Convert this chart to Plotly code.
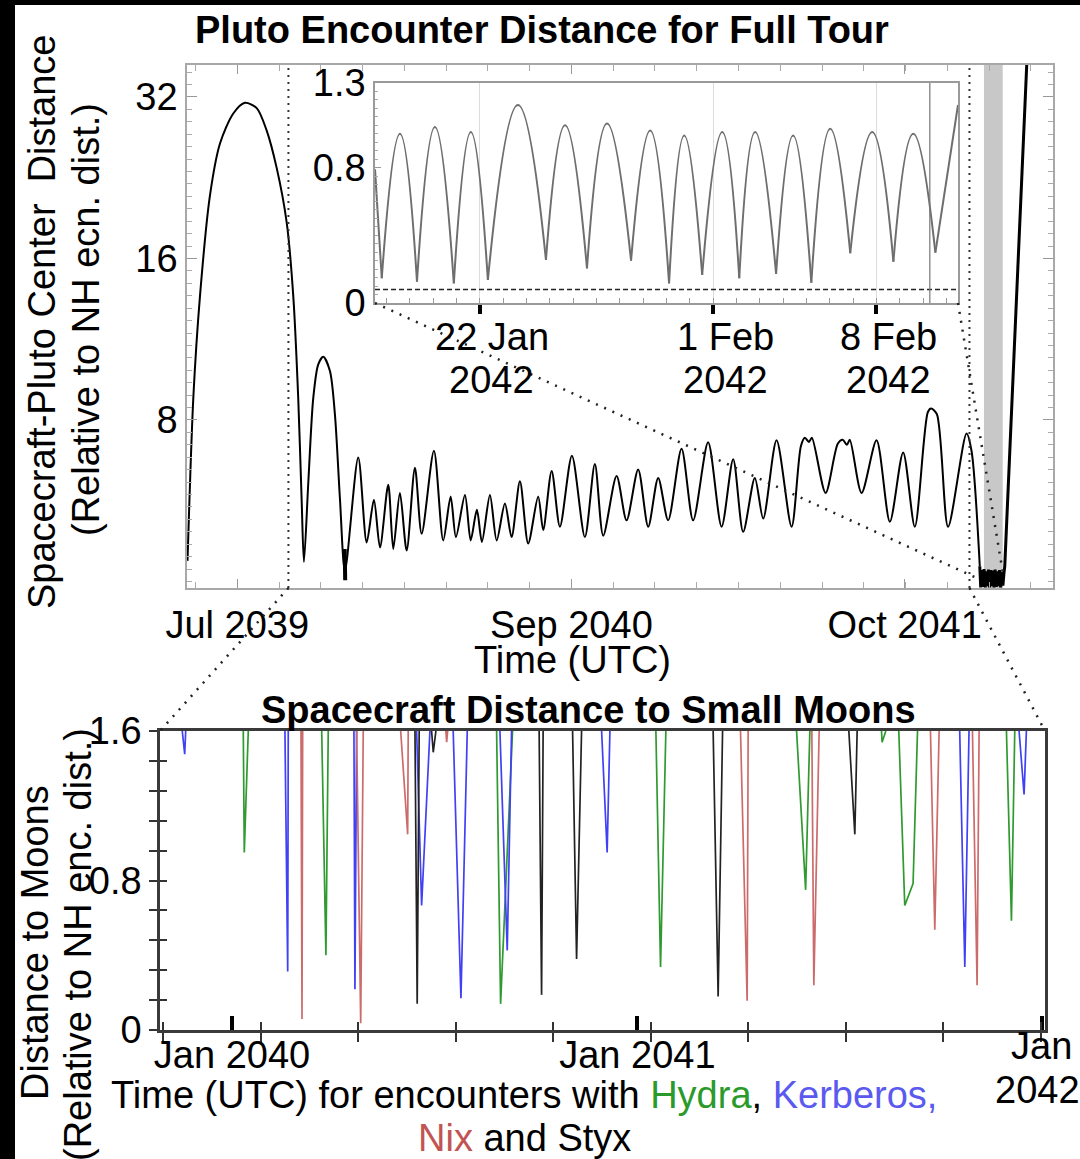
import numpy as np
import pandas as pd
import plotly.graph_objects as go

W, H = 1080, 1159
FONT = "Liberation Sans, Arial, Helvetica, sans-serif"
FS = 38

# ---------------- Full tour: days since 2039-07-01, distance (rel. to NH encounter dist.)
tour_days = [0.6, 7.4, 15.2, 27.0, 38.7, 54.3, 68.0, 81.8, 93.5, 105.2, 116.9, 124.7, 130.5,
             134.5, 137.2, 142.3, 148.1, 154.0, 159.9, 167.7, 173.6, 179.5, 185.3,
             200.9, 210.8, 219.3, 226.4, 236.1, 242.0, 249.8, 257.7, 267.4, 275.3, 289.7,
             300.6, 309.3, 315.5, 326.1, 332.8, 340.1, 346.0, 355.4, 363.3, 373.0, 380.8,
             390.6, 400.3, 412.0, 417.9, 427.8, 437.5, 451.6, 466.8, 478.5, 488.3, 504.0,
             515.7, 529.3, 541.1, 552.8, 564.5, 580.2, 593.8, 611.4, 627.2, 640.8, 652.5,
             666.2, 676.0, 691.7, 709.3, 720.2, 724.9, 729.6, 733.1, 749.2, 763.6, 769.4,
             774.1, 777.6, 791.4, 809.0, 824.6, 840.2, 853.9, 869.1, 873.0, 879.7, 892.9,
             914.5, 920.4, 930.1]
tour_dist = [4.37, 8.79, 13.6, 21.0, 26.2, 29.8, 31.2, 30.5, 27.7, 23.6, 18.7, 13.6, 8.78,
             5.68, 4.35, 6.11, 8.78, 10.16, 10.49, 9.87, 8.17, 5.68, 4.19,
             6.81, 4.73, 5.68, 4.63, 6.06, 4.60, 5.85, 4.57, 6.52, 4.91, 7.01,
             4.77, 5.76, 4.84, 5.80, 4.77, 5.44, 4.74, 5.80, 4.77, 5.59, 4.84,
             6.15, 4.71, 5.76, 4.99, 6.43, 5.06, 6.86, 4.84, 6.62, 4.87, 6.29,
             5.20, 6.47, 5.06, 6.24, 5.20, 7.07, 5.20, 7.27, 5.06, 6.76, 4.95,
             6.24, 5.24, 7.33, 5.06, 7.15, 7.41, 7.28, 7.41, 5.85, 7.23, 7.35,
             7.19, 7.35, 5.85, 7.33, 5.17, 6.96, 5.06, 8.27, 8.40, 8.21, 5.06,
             7.55, 7.01, 4.27]
notch_days = [185.0, 185.6]
notch_dist = [4.60, 4.02]
# close-encounter period and departure
end_days = [930.1, 931.2, 932.5, 933.8, 935.1, 936.4, 937.7, 939.0, 940.3, 941.6, 942.9, 944.2,
            945.5, 946.8, 948.1, 949.4, 950.7, 952.0, 953.3, 954.6, 955.9, 957.2, 958.5,
            959.4, 986.2]
end_dist = [4.27, 3.90, 4.20, 3.91, 4.22, 3.90, 4.18, 3.92, 4.21, 3.90, 4.20, 3.92,
            4.19, 3.90, 4.21, 3.91, 4.18, 3.92, 4.20, 3.90, 4.17, 3.93, 4.15,
            4.27, 40.0]

# ---------------- Inset: day of January 2042 (February continues past 31)
inset_min_day = [17.79, 19.30, 20.88, 22.34, 24.83, 26.59, 28.48, 30.11, 31.53, 33.12,
                 34.70, 36.21, 37.88, 39.73, 41.53]
inset_min_dist = [0.146, 0.126, 0.116, 0.136, 0.254, 0.205, 0.25, 0.116, 0.166, 0.146,
                  0.172, 0.12, 0.294, 0.244, 0.298]
inset_peak_day = [18.57, 20.07, 21.61, 23.63, 25.65, 27.45, 29.30, 30.76, 32.39, 33.80,
                  35.43, 37.02, 38.82, 40.58]
inset_peak_dist = [1.00, 1.04, 1.01, 1.17, 1.05, 1.06, 1.02, 0.99, 1.01, 1.01,
                   0.99, 1.03, 1.01, 1.00]
inset_edge_day = [17.5, 42.5]
inset_edge_dist = [0.79, 1.17]
inset_limit = 0.08

# ---------------- Small-moon encounters: days since 2040-01-01
hydra_days = [[10.2, 11.1, 14.7], [81.0, 84.8, 86.9], [238.9, 242.5, 253.3], [382.7, 386.9, 391.7],
              [509.7, 517.9, 521.7], [586.4, 586.9, 590.3], [602.0, 607.4, 614.9, 618.9],
              [699.2, 703.7, 706.7]]
hydra_dist = [[1.6, 0.95, 1.6], [1.6, 0.40, 1.6], [1.6, 0.14, 1.6], [1.6, 0.337, 1.6],
              [1.6, 0.75, 1.6], [1.6, 1.54, 1.6], [1.6, 0.666, 0.784, 1.6], [1.6, 0.585, 1.6]]
kerberos_days = [[-44.9, -42.7, -41.8], [47.8, 50.3, 50.8], [110.1, 111.0, 112.5],
                 [166.7, 171.2, 178.7], [199.7, 206.7, 212.4], [241.9, 248.5, 252.4],
                 [333.7, 338.7, 341.2], [657.0, 661.6, 665.4], [710.6, 715.1, 717.2]]
kerberos_dist = [[1.6, 1.476, 1.6], [1.6, 0.313, 1.6], [1.6, 0.218, 1.6], [1.6, 0.666, 1.6],
                 [1.6, 0.17, 1.6], [1.6, 0.426, 1.6], [1.6, 0.95, 1.6], [1.6, 0.337, 1.6],
                 [1.6, 1.26, 1.6]]
nix_days = [[62.3, 63.2, 63.8], [112.5, 116.2, 118.5], [152.3, 158.6, 159.1], [193.1, 193.8, 194.7],
            [459.1, 465.1, 466.0], [523.5, 525.3, 530.1], [630.6, 634.5, 638.4], [668.5, 672.7, 674.5]]
nix_dist = [[1.6, 0.059, 1.6], [1.6, 0.036, 1.6], [1.6, 1.047, 1.6], [1.6, 1.54, 1.6],
            [1.6, 0.157, 1.6], [1.6, 0.24, 1.6], [1.6, 0.537, 1.6], [1.6, 0.24, 1.6]]
styx_days = [[165.2, 167.2, 169.0], [180.2, 181.7, 184.1], [277.3, 279.5, 280.9],
             [307.5, 311.1, 315.6], [434.4, 438.9, 442.9], [556.9, 562.3, 564.4]]
styx_dist = [[1.6, 0.14, 1.6], [1.6, 1.486, 1.6], [1.6, 0.188, 1.6], [1.6, 0.38, 1.6],
             [1.6, 0.179, 1.6], [1.6, 1.047, 1.6]]

# ---------------- ticks
main_tick_dates = ["2039-08-29", "2040-09-24", "2041-10-20"]
main_tick_text = ["Jul 2039", "Sep 2040", "Oct 2041"]
main_y_ticks = [8, 16, 32]
inset_tick_dates = ["2042-01-22", "2042-02-01", "2042-02-08"]
inset_tick_day = ["22 Jan", "1 Feb", "8 Feb"]
inset_tick_year = ["2042", "2042", "2042"]
inset_y_ticks = [0, 0.8, 1.3]
moon_tick_dates = ["2040-01-01", "2041-01-01", "2042-01-01"]
moon_tick_text = ["Jan 2040", "Jan 2041", ""]
moon_last_label = ["Jan", "2042"]
moon_y_ticks = [0, 0.8, 1.6]

# ---------------- helpers
def to_dates(base, days):
    b = pd.Timestamp(base)
    return [b + pd.Timedelta(days=float(d)) for d in days]

def flatten(base, segs_x, segs_y):
    xs, ys = [], []
    for sx, sy in zip(segs_x, segs_y):
        xs += to_dates(base, sx) + [None]
        ys += list(sy) + [None]
    return xs, ys

# layout geometry (paper fractions)
main_xdom = [187 / W, 1053 / W]
main_ydom = [1 - 588 / H, 1 - 65 / H]
main_xr = [pd.Timestamp("2039-07-01"), pd.Timestamp("2042-04-12")]
main_yr = [np.log10(3.89), np.log10(36.7)]
inset_xdom = [375 / W, 958 / W]
inset_ydom = [1 - 303 / H, 1 - 83 / H]
inset_xr = [pd.Timestamp("2042-01-17 12:00"), pd.Timestamp("2042-02-11 12:00")]
moon_xdom = [160 / W, 1045 / W]
moon_ydom = [1 - 1030 / H, 1 - 731 / H]
moon_xr = [pd.Timestamp("2039-10-28"), pd.Timestamp("2042-01-04")]

def main_xp(d):
    f = (pd.Timestamp(d) - main_xr[0]) / (main_xr[1] - main_xr[0])
    return main_xdom[0] + f * (main_xdom[1] - main_xdom[0])

def main_yp(v):
    f = (np.log10(v) - main_yr[0]) / (main_yr[1] - main_yr[0])
    return main_ydom[0] + f * (main_ydom[1] - main_ydom[0])

def moon_xp(d):
    f = (pd.Timestamp(d) - moon_xr[0]) / (moon_xr[1] - moon_xr[0])
    return moon_xdom[0] + f * (moon_xdom[1] - moon_xdom[0])

fig = go.Figure()

# main tour curve
fig.add_trace(go.Scatter(x=to_dates("2039-07-01", tour_days), y=tour_dist, mode="lines",
                         line=dict(color="black", width=2, shape="spline", smoothing=0.8),
                         xaxis="x", yaxis="y", hoverinfo="skip", showlegend=False))
fig.add_trace(go.Scatter(x=to_dates("2039-07-01", notch_days), y=notch_dist, mode="lines",
                         line=dict(color="black", width=4), xaxis="x", yaxis="y",
                         hoverinfo="skip", showlegend=False))
fig.add_trace(go.Scatter(x=to_dates("2039-07-01", end_days), y=end_dist, mode="lines",
                         line=dict(color="black", width=3), xaxis="x", yaxis="y",
                         hoverinfo="skip", showlegend=False))

# inset arches
seg_x = [[inset_edge_day[0], inset_min_day[0]]]
seg_y = [[inset_edge_dist[0], inset_min_dist[0]]]
for k in range(len(inset_peak_day)):
    seg_x.append([inset_min_day[k], inset_peak_day[k], inset_min_day[k + 1]])
    seg_y.append([inset_min_dist[k], inset_peak_dist[k], inset_min_dist[k + 1]])
seg_x.append([inset_min_day[-1], inset_edge_day[1]])
seg_y.append([inset_min_dist[-1], inset_edge_dist[1]])
ix, iy = flatten("2041-12-31", seg_x, seg_y)
fig.add_trace(go.Scatter(x=ix, y=iy, mode="lines", connectgaps=False,
                         line=dict(color="#6e6e6e", width=2, shape="spline", smoothing=1.3),
                         xaxis="x3", yaxis="y3", hoverinfo="skip", showlegend=False))

# small moons
moons = [(hydra_days, hydra_dist, "#2f9a2f"), (kerberos_days, kerberos_dist, "#4040f5"),
         (nix_days, nix_dist, "#cc6b6b"), (styx_days, styx_dist, "#222222")]
for dd, vv, col in moons:
    mx, my = flatten("2040-01-01", dd, vv)
    fig.add_trace(go.Scatter(x=mx, y=my, mode="lines", connectgaps=False,
                             line=dict(color=col, width=1.7), xaxis="x4", yaxis="y4",
                             hoverinfo="skip", showlegend=False))
# overlay axis holder (inside tick marks of lower panel)
fig.add_trace(go.Scatter(x=[moon_xr[0]], y=[-1], mode="markers", marker=dict(opacity=0),
                         xaxis="x5", yaxis="y5", hoverinfo="skip", showlegend=False))

tickfont = dict(family=FONT, size=FS, color="black")
DAY = 86400000

fig.update_layout(
    width=W, height=H, margin=dict(l=0, r=0, t=0, b=0, pad=0, autoexpand=False),
    paper_bgcolor="white", plot_bgcolor="white", font=dict(family=FONT, size=FS, color="black"),
    xaxis=dict(domain=main_xdom, range=main_xr, type="date", anchor="y", automargin=False,
               showline=True, linecolor="#a8a8a8", linewidth=1.5, mirror="allticks",
               ticks="inside", ticklen=9, tickwidth=1.2, tickcolor="#999999",
               tickvals=main_tick_dates, ticktext=main_tick_text, tickfont=tickfont,
               ticklabelstandoff=3,
               minor=dict(ticks="inside", ticklen=6, tickcolor="#aaaaaa", tickwidth=1,
                          dtick=49 * DAY, tick0="2039-08-29", showgrid=False),
               showgrid=False, zeroline=False),
    yaxis=dict(domain=main_ydom, range=main_yr, type="log", anchor="x", automargin=False,
               showline=True, linecolor="#a8a8a8", linewidth=1.5, mirror="allticks",
               ticks="inside", ticklen=10, tickwidth=1.2, tickcolor="#999999",
               tickvals=main_y_ticks, ticktext=[str(t) for t in main_y_ticks], tickfont=tickfont,
               minor=dict(ticks="inside", ticklen=5, tickcolor="#aaaaaa", tickwidth=1,
                          dtick=np.log10(2) / 13, tick0=np.log10(8), showgrid=False),
               showgrid=False, zeroline=False),
    xaxis3=dict(domain=inset_xdom, range=inset_xr, type="date", anchor="y3", automargin=False,
                showline=True, linecolor="#9a9a9a", linewidth=1.5, mirror=True,
                ticks="outside", ticklen=9, tickwidth=4, tickcolor="black",
                tickvals=inset_tick_dates, showticklabels=False,
                minor=dict(ticks="inside", ticklen=5, tickcolor="#9a9a9a", tickwidth=1,
                           dtick=DAY, tick0="2042-01-18", showgrid=False),
                showgrid=True, gridcolor="#dcdcdc", gridwidth=1, zeroline=False),
    yaxis3=dict(domain=inset_ydom, range=[0, 1.3], anchor="x3", automargin=False,
                showline=True, linecolor="#9a9a9a", linewidth=1.5, mirror=True,
                ticks="inside", ticklen=6, tickcolor="#9a9a9a",
                tickvals=inset_y_ticks, ticktext=["0", "0.8", "1.3"], tickfont=tickfont,
                minor=dict(ticks="inside", ticklen=3, tickcolor="#aaaaaa", dtick=0.05),
                showgrid=False, zeroline=False),
    xaxis4=dict(domain=moon_xdom, range=moon_xr, type="date", anchor="y4", automargin=False,
                showline=True, linecolor="#3a3a3a", linewidth=2.5, mirror=True,
                ticks="inside", ticklen=14, tickwidth=4, tickcolor="black",
                tickvals=moon_tick_dates, ticktext=moon_tick_text, tickfont=tickfont,
                ticklabelstandoff=-10,
                minor=dict(ticks="outside", ticklen=9, tickwidth=1.5, tickcolor="#333333",
                           dtick=88 * DAY, tick0="2040-01-27", showgrid=False),
                showgrid=False, zeroline=False),
    yaxis4=dict(domain=moon_ydom, range=[0, 1.6], anchor="x4", automargin=False,
                showline=True, linecolor="#3a3a3a", linewidth=2.5, mirror=True,
                ticks="outside", ticklen=8, tickwidth=2, tickcolor="#333333",
                tickvals=moon_y_ticks, ticktext=["0", "0.8", "1.6"], tickfont=tickfont,
                minor=dict(ticks="outside", ticklen=8, tickwidth=2, tickcolor="#333333", dtick=0.16),
                showgrid=False, zeroline=False),
    xaxis5=dict(overlaying="x4", range=moon_xr, type="date", anchor="y5", automargin=False,
                showline=False, ticks="inside", ticklen=8, tickwidth=1.5, tickcolor="#333333",
                dtick=88 * DAY, tick0="2040-01-27", showticklabels=False,
                showgrid=False, zeroline=False),
    yaxis5=dict(overlaying="y4", range=[0, 1.6], anchor="x5", side="left", automargin=False,
                showline=False, ticks="inside", ticklen=7, tickwidth=2, tickcolor="#333333",
                dtick=0.16, tick0=0, showticklabels=False, showgrid=False, zeroline=False),
)

shapes = []
# black photo edges
shapes.append(dict(type="rect", xref="paper", yref="paper", x0=0, x1=15 / W, y0=0, y1=1,
                   fillcolor="black", line=dict(width=0), layer="above"))
shapes.append(dict(type="rect", xref="paper", yref="paper", x0=0, x1=1, y0=1 - 5 / H, y1=1,
                   fillcolor="black", line=dict(width=0), layer="above"))
# gray band: inset period
shapes.append(dict(type="rect", xref="x", yref="y domain", x0="2042-01-21", x1="2042-02-12",
                   y0=0, y1=1, fillcolor="#c8c8c8", line=dict(width=0), layer="below"))
# inset shaded bands
for lo, hi in [(0.0, 0.17), (0.31, 0.47), (0.63, 0.79), (0.93, 1.10), (1.25, 1.30)]:
    shapes.append(dict(type="rect", xref="x3 domain", yref="y3", x0=0, x1=1, y0=lo, y1=hi,
                       fillcolor="#f1f1f1", line=dict(color="#d6d6d6", width=1), layer="below"))
shapes.append(dict(type="line", xref="x3 domain", yref="y3", x0=0, x1=1, y0=inset_limit,
                   y1=inset_limit, line=dict(color="#222222", width=1.5, dash="5px,3px")))
shapes.append(dict(type="line", xref="x3", yref="y3 domain", x0="2042-02-10 07:00",
                   x1="2042-02-10 07:00", y0=0, y1=1, line=dict(color="#777777", width=1.2)))
# zoom markers in main panel
DOT = "2px,5px"
for d in ["2039-10-28", "2042-01-04"]:
    shapes.append(dict(type="line", xref="paper", yref="paper", x0=main_xp(d), x1=main_xp(d),
                       y0=main_ydom[0], y1=main_ydom[1], line=dict(color="#333333", width=2, dash=DOT)))
# connectors
conn = [
    ((inset_xdom[0], inset_ydom[0]), (main_xp("2042-01-14"), main_yp(4.05))),
    ((inset_xdom[1], inset_ydom[0]), (main_xp("2042-02-12"), main_yp(4.17))),
    ((main_xp("2039-10-28"), main_ydom[0]), (moon_xdom[0], moon_ydom[1])),
    ((main_xp("2042-01-04"), main_ydom[0]), (moon_xdom[1], moon_ydom[1])),
]
for (xa, ya), (xb, yb) in conn:
    shapes.append(dict(type="line", xref="paper", yref="paper", x0=xa, y0=ya, x1=xb, y1=yb,
                       line=dict(color="#222222", width=2.5, dash="2px,7px")))
fig.update_layout(shapes=shapes)

def ann(text, x, y, angle=0, size=FS):
    return dict(text=text, x=x / W, y=1 - y / H, xref="paper", yref="paper", showarrow=False,
                xanchor="center", yanchor="middle", textangle=angle,
                font=dict(family=FONT, size=size, color="black"))

anns = [
    ann("<b>Pluto Encounter Distance for Full Tour</b>", 542, 30),
    ann("<b>Spacecraft Distance to Small Moons</b>", 588, 710),
    ann("Time (UTC)", 572, 660),
    ann("Spacecraft-Pluto Center  Distance", 42, 322, -90),
    ann("(Relative to NH ecn. dist.)", 86, 320, -90),
    ann("Distance to Moons", 35, 943, -90),
    ann("(Relative to NH enc. dist.)", 78, 945, -90),
    ann("Time (UTC) for encounters with <span style='color:#2a9a2a'>Hydra</span>, "
        "<span style='color:#5a5af0'>Kerberos,</span>", 524, 1095),
    ann("<span style='color:#c25454'>Nix</span> and Styx", 524, 1138),
]
# inset tick labels (two lines each)
for d, t1, t2 in zip(inset_tick_dates, inset_tick_day, inset_tick_year):
    for txt, ypx in [(t1, 337), (t2, 380)]:
        anns.append(dict(text=txt, x=d, xref="x3", y=1 - ypx / H, yref="paper", xshift=12,
                         showarrow=False, xanchor="center", yanchor="middle",
                         font=dict(family=FONT, size=FS, color="black")))
# last tick label of the lower panel (wrapped at the right edge)
lx = moon_xp(moon_tick_dates[-1])
anns.append(dict(text=moon_last_label[0], x=lx, y=1 - 1046 / H, xref="paper", yref="paper",
                 showarrow=False, xanchor="center", yanchor="middle",
                 font=dict(family=FONT, size=FS, color="black")))
anns.append(dict(text=moon_last_label[1], x=lx, y=1 - 1090 / H, xref="paper", yref="paper",
                 xshift=-4, showarrow=False, xanchor="center", yanchor="middle",
                 font=dict(family=FONT, size=FS, color="black")))
fig.update_layout(annotations=anns)

fig.write_html("out.html")
